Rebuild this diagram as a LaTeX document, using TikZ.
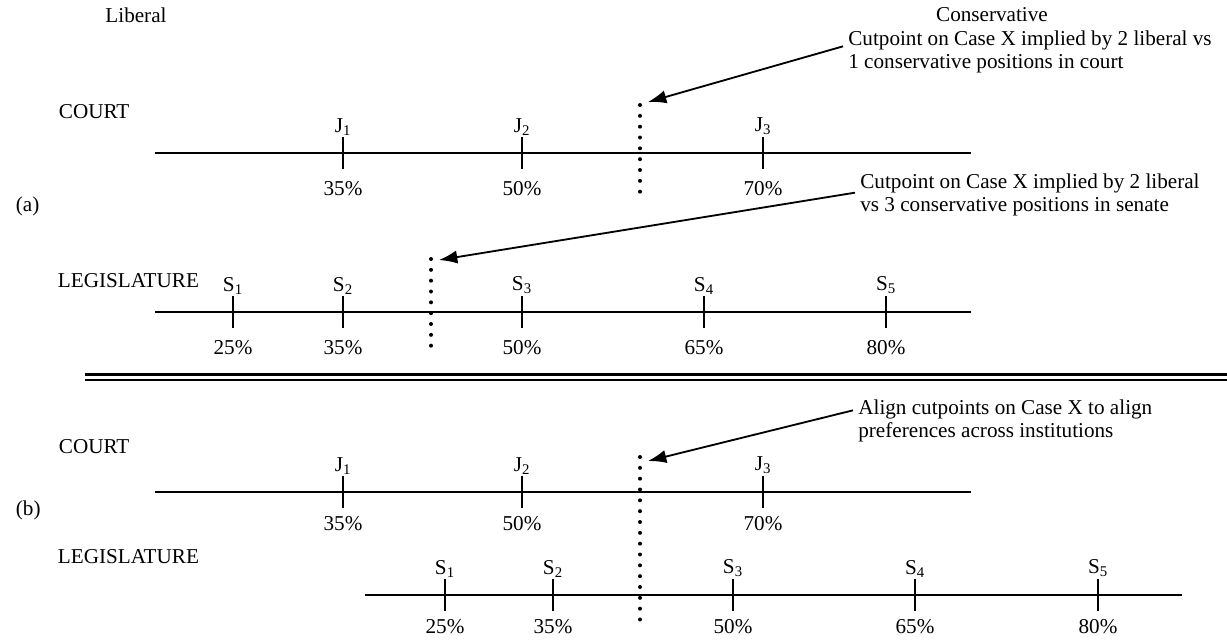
\documentclass[tikz,border=0pt]{standalone}
\usepackage{fontspec}
\setmainfont{Liberation Serif}
\usetikzlibrary{arrows.meta,positioning}
\tikzstyle{axis}=[line width=1.2pt]
\tikzstyle{tickmark}=[line width=1.2pt]
\tikzstyle{cutline}=[line width=2.4pt,line cap=round,dash pattern=on 0pt off 6.5pt]
\tikzstyle{pointer}=[line width=1.1pt,-{Latex[length=11pt,width=8pt]}]
\tikzstyle{note}=[align=left,anchor=base west,inner sep=0pt]
\tikzstyle{lbl}=[inner sep=1pt]
\tikzstyle{divider}=[double,line width=1.7pt,double distance=1.8pt]

\begin{document}
\begin{tikzpicture}[x=0.6pt,y=-0.6pt,font=\fontsize{12.7}{13.3}\selectfont]
  \useasboundingbox (0,0) rectangle (1227,641);
  \node (lib) at (136,15) {Liberal};
  \node (con) at (992,15) {Conservative};

  % (a) court
  \node[anchor=west] (courtA) at (53,112) {COURT};
  \node[anchor=west] (partA) at (10,206) {(a)};
  \coordinate (cAl) at (155,153);
  \coordinate (cAr) at (971,153);
  \draw[axis] (cAl) -- (cAr);
  \foreach \x/\n/\p in {343/1/35,522/2/50,763/3/70} {
    \coordinate (jAt\n) at (\x,137);
    \coordinate (jAb\n) at (\x,169);
    \draw[tickmark] (jAt\n) -- (jAb\n);
    \node[lbl,above=0pt of jAt\n] (jA\n) {J\textsubscript{\n}};
    \node[lbl,below=6pt of jAb\n] (pjA\n) {\p\%};
  }
  \coordinate (cutAt) at (640,105);
  \coordinate (cutAb) at (640,192);
  \draw[cutline] (cutAt) -- (cutAb);
  % base anchor sits on the last line
  \node[note] (noteA) at (848,68) {Cutpoint on Case X implied by 2 liberal vs\\1 conservative positions in court};
  \coordinate (tipA) at (648,102);
  \draw[pointer] ([xshift=-3pt,yshift=13pt]noteA.base west) -- (tipA);

  % (a) legislature
  \node[anchor=west] (legA) at (52,281) {LEGISLATURE};
  \coordinate (sAl) at (155,312);
  \coordinate (sAr) at (971,312);
  \draw[axis] (sAl) -- (sAr);
  \foreach \x/\n/\p in {233/1/25,343/2/35,522/3/50,704/4/65,886/5/80} {
    \coordinate (sAt\n) at (\x,296);
    \coordinate (sAb\n) at (\x,328);
    \draw[tickmark] (sAt\n) -- (sAb\n);
    \node[lbl,above=0pt of sAt\n] (sA\n) {S\textsubscript{\n}};
    \node[lbl,below=6pt of sAb\n] (psA\n) {\p\%};
  }
  \coordinate (cutBt) at (431,259);
  \coordinate (cutBb) at (431,347);
  \draw[cutline] (cutBt) -- (cutBb);
  \node[note] (noteB) at (860,211) {Cutpoint on Case X implied by 2 liberal\\vs 3 conservative positions in senate};
  \coordinate (tipB) at (439,260);
  \draw[pointer] ([xshift=-3pt,yshift=11pt]noteB.base west) -- (tipB);

  \coordinate (sepL) at (85,377);
  \coordinate (sepR) at (1227,377);
  \draw[divider] (sepL) -- (sepR);

  % (b) court
  \node[anchor=west] (courtB) at (53,447) {COURT};
  \node[anchor=west] (partB) at (10,510) {(b)};
  \coordinate (cBl) at (155,492);
  \coordinate (cBr) at (971,492);
  \draw[axis] (cBl) -- (cBr);
  \foreach \x/\n/\p in {343/1/35,522/2/50,763/3/70} {
    \coordinate (jBt\n) at (\x,476);
    \coordinate (jBb\n) at (\x,508);
    \draw[tickmark] (jBt\n) -- (jBb\n);
    \node[lbl,above=0pt of jBt\n] (jB\n) {J\textsubscript{\n}};
    \node[lbl,below=4pt of jBb\n] (pjB\n) {\p\%};
  }

  % (b) legislature
  \node[anchor=west] (legB) at (52,557) {LEGISLATURE};
  \coordinate (sBl) at (365,595);
  \coordinate (sBr) at (1182,595);
  \draw[axis] (sBl) -- (sBr);
  \foreach \x/\n/\p in {445/1/25,553/2/35,733/3/50,915/4/65,1098/5/80} {
    \coordinate (sBt\n) at (\x,579);
    \coordinate (sBb\n) at (\x,611);
    \draw[tickmark] (sBt\n) -- (sBb\n);
    \node[lbl,above=0pt of sBt\n] (sB\n) {S\textsubscript{\n}};
    \node[lbl,below=4pt of sBb\n] (psB\n) {\p\%};
  }
  \coordinate (cutCt) at (640,457);
  \coordinate (cutCb) at (640,622);
  \draw[cutline] (cutCt) -- (cutCb);
  \node[note] (noteC) at (858,437) {Align cutpoints on Case X to align\\preferences across institutions};
  \coordinate (tipC) at (648,461);
  \draw[pointer] ([xshift=-3pt,yshift=16pt]noteC.base west) -- (tipC);
\end{tikzpicture}
\end{document}
